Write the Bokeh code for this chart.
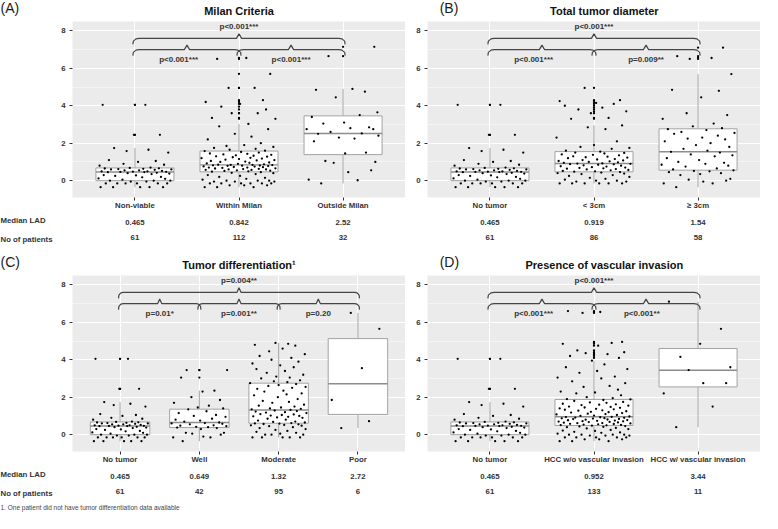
from bokeh.plotting import figure
from bokeh.models import Range1d, FixedTicker, LinearAxis
from bokeh.layouts import row, column
from bokeh.core.properties import value
from bokeh.embed import file_html
from bokeh.resources import INLINE

FONT = "Liberation Sans"

# ---------------- data ----------------
no_tumor = [-0.35, -0.35, -0.35, -0.35, -0.35, -0.15, -0.15, -0.15, -0.15, -0.15, -0.15, -0.05, -0.05, 0.0, 0.0, 0.0,
            0.05, 0.1, 0.12, 0.18, 0.2, 0.25, 0.28, 0.3, 0.35, 0.38, 0.4, 0.42, 0.45, 0.46,
            0.465,
            0.47, 0.48, 0.5, 0.5, 0.52, 0.55, 0.55, 0.58, 0.6, 0.6, 0.62, 0.63, 0.65, 0.66, 0.68,
            0.7, 0.8, 0.85, 0.9, 1.0, 1.05, 1.1, 1.5, 1.58, 1.65, 1.74, 2.45, 2.45, 4.05, 4.05]

within_milan = [-0.35, -0.35, -0.35, -0.25, -0.25, -0.25, -0.15, -0.15, -0.15, -0.15, -0.15, -0.15, -0.05, -0.05,
                -0.05, 0.0, 0.0, 0.0, 0.05, 0.1, 0.15, 0.2, 0.25, 0.3, 0.35, 0.4, 0.42, 0.45,
                0.48, 0.5, 0.52, 0.53, 0.55, 0.57, 0.58, 0.6, 0.6, 0.62, 0.63, 0.65, 0.66, 0.68, 0.7, 0.7, 0.72,
                0.73, 0.75, 0.76, 0.78, 0.79, 0.8, 0.81, 0.82, 0.83, 0.84, 0.842,
                0.85, 0.87, 0.9, 0.92, 0.95, 0.97, 1.0, 1.02, 1.05, 1.08, 1.1, 1.12, 1.15, 1.18, 1.2, 1.22, 1.25,
                1.28, 1.3, 1.33, 1.35, 1.38, 1.4, 1.43, 1.45, 1.5, 1.53, 1.58,
                1.6, 1.65, 1.7, 1.75, 1.8, 1.85, 1.9, 2.0, 2.2, 2.35, 2.5, 2.75, 2.9, 3.03, 3.3, 3.35, 3.6, 3.6,
                3.8, 3.95, 4.1, 4.2, 4.3, 4.95, 4.95, 5.7, 6.5, 6.55]

outside_milan = [-0.15, 0.02, 0.05, 0.45, 0.55, 0.95, 1.0, 1.05, 1.45, 1.5, 2.1, 2.25, 2.3, 2.4, 2.5, 2.52,
                 2.6, 2.75, 2.75, 2.8, 2.85, 3.05, 3.1, 3.4, 3.5, 3.65, 4.45, 4.75, 4.85, 4.9, 6.65, 7.15]

under_3cm = [-0.15, -0.15, -0.15, -0.15, -0.15, -0.15, -0.05, -0.05, 0.0, 0.0, 0.05, 0.1, 0.15, 0.2, 0.25, 0.3,
             0.35, 0.38, 0.4, 0.43, 0.46,
             0.48, 0.5, 0.52, 0.55, 0.57, 0.6, 0.62, 0.64, 0.66, 0.68, 0.7, 0.72, 0.75, 0.77, 0.8, 0.82, 0.85,
             0.87, 0.88, 0.9, 0.91, 0.919,
             0.95, 0.98, 1.0, 1.03, 1.05, 1.08, 1.1, 1.13, 1.15, 1.2, 1.23, 1.25, 1.28, 1.3, 1.35, 1.38, 1.4,
             1.45, 1.48, 1.5, 1.55,
             1.6, 1.7, 1.75, 1.8, 1.9, 2.1, 2.3, 2.75, 2.85, 2.95, 3.3, 3.35, 3.6, 3.7, 3.8, 3.9, 4.0, 4.1,
             4.15, 4.25, 4.3, 4.95]

over_3cm = [-0.35, -0.15, -0.15, -0.05, 0.0, 0.05, 0.1, 0.3, 0.35, 0.4, 0.45, 0.5, 0.52, 0.55,
            0.6, 0.65, 0.75, 0.8, 0.85, 0.9, 0.95, 1.0, 1.1, 1.2, 1.3, 1.35, 1.4, 1.5, 1.54,
            1.6, 1.7, 1.8, 1.9, 2.0, 2.1, 2.2, 2.25, 2.3, 2.4, 2.5, 2.55, 2.6, 2.7, 2.75,
            2.8, 2.9, 3.05, 3.3, 3.5, 3.6, 4.45, 4.8, 4.85, 5.69, 6.5, 6.55, 6.65, 7.1]

well_diff = [-0.35, -0.15, -0.15, -0.1, 0.0, 0.05, 0.1, 0.1, 0.3, 0.35,
             0.38, 0.4, 0.42, 0.45, 0.48, 0.5, 0.55, 0.58, 0.6, 0.62, 0.649,
             0.7, 0.75, 0.8, 0.85, 0.95, 1.0, 1.05, 1.15, 1.25, 1.35,
             1.4, 1.45, 1.55, 1.7, 1.85, 2.0, 2.3, 2.35, 3.05, 3.45, 3.45]

moderate_diff = [-0.15, -0.15, -0.15, -0.15, -0.15, 0.0, 0.0, 0.0, 0.05, 0.1, 0.15, 0.2, 0.25, 0.3, 0.35, 0.4,
                 0.45, 0.48, 0.5, 0.52, 0.55, 0.57, 0.59, 0.6,
                 0.62, 0.65, 0.68, 0.7, 0.75, 0.8, 0.85, 0.9, 0.92, 0.95, 0.98, 1.0, 1.02, 1.05, 1.08, 1.1,
                 1.15, 1.18, 1.2, 1.23, 1.26, 1.29, 1.32,
                 1.35, 1.38, 1.4, 1.45, 1.5, 1.55, 1.6, 1.7, 1.75, 1.8, 1.9, 2.0, 2.1, 2.15, 2.2, 2.3, 2.35,
                 2.45, 2.5, 2.55, 2.6, 2.65, 2.7, 2.75,
                 2.8, 2.85, 2.9, 3.0, 3.05, 3.1, 3.2, 3.3, 3.4, 3.5, 3.6, 3.7, 3.8, 3.9, 4.0, 4.1, 4.2, 4.3,
                 4.45, 4.6, 4.75, 4.8, 4.85, 4.9]

poor_diff = [0.35, 0.72, 1.85, 3.55, 5.65, 6.5]

hcc_no_vi = [-0.35, -0.35, -0.35, -0.25, -0.25, -0.25, -0.15, -0.15, -0.15, -0.15, -0.15, -0.05, -0.05, -0.05,
             0.0, 0.0, 0.0, 0.0, 0.05, 0.1, 0.12, 0.15, 0.2, 0.22, 0.25, 0.3, 0.33, 0.36, 0.4, 0.42, 0.44,
             0.46, 0.48,
             0.5, 0.51, 0.52, 0.54, 0.55, 0.57, 0.58, 0.6, 0.61, 0.62, 0.64, 0.65, 0.67, 0.68, 0.7, 0.71,
             0.72, 0.74, 0.75, 0.77, 0.78, 0.8, 0.81, 0.83, 0.84, 0.86, 0.87, 0.88, 0.9, 0.91, 0.93, 0.94,
             0.952,
             0.97, 1.0, 1.02, 1.05, 1.08, 1.1, 1.12, 1.15, 1.18, 1.2, 1.22, 1.25, 1.28, 1.3, 1.33, 1.35,
             1.38, 1.4, 1.43, 1.45, 1.48, 1.5, 1.55, 1.58, 1.6, 1.62, 1.65, 1.7, 1.72, 1.75, 1.8, 1.85, 1.88,
             1.9, 1.95, 2.0, 2.1, 2.2, 2.25, 2.3, 2.4, 2.55, 2.6, 2.75, 2.85, 3.0, 3.05, 3.1, 3.3, 3.4, 3.5,
             3.6, 3.75, 3.95, 4.1, 4.2, 4.3, 4.35, 4.4, 4.5, 4.75, 4.85, 4.9, 4.95, 6.5, 6.55, 6.6]

hcc_vi = [0.4, 1.5, 2.2, 2.75, 2.75, 3.45, 3.6, 4.15, 4.85, 5.65, 7.1]

# box statistics: lower whisker, Q1, median, Q3, upper whisker
stats_no_tumor = [-0.35, 0.0, 0.465, 0.68, 1.74]
stats_within = [-0.35, 0.47, 0.842, 1.58, 3.03]
stats_outside = [-0.15, 1.39, 2.52, 3.46, 4.9]
stats_under3 = [-0.15, 0.47, 0.919, 1.55, 2.95]
stats_over3 = [-0.35, 0.56, 1.54, 2.77, 5.69]
stats_well = [-0.35, 0.38, 0.649, 1.36, 2.35]
stats_moderate = [-0.15, 0.61, 1.32, 2.75, 4.9]
stats_poor = [0.35, 1.08, 2.72, 5.13, 6.5]
stats_no_vi = [-0.35, 0.49, 0.952, 1.88, 3.95]
stats_vi = [0.4, 2.55, 3.44, 4.6, 7.1]

# horizontal jitter of the points (category units)
jitter = [-0.21, 0.14, -0.33, 0.05, 0.27, -0.09, 0.31, -0.17, 0.02, 0.22, -0.28, 0.11, -0.04, 0.34, -0.24, 0.18,
          -0.12, 0.29, -0.35, 0.07, 0.25, -0.19, 0.01, -0.30, 0.16, 0.33, -0.07, 0.21, -0.26, 0.09, -0.14, 0.30,
          -0.02, 0.12, -0.32, 0.26, -0.10, 0.04, 0.19, -0.23, 0.35, -0.16, 0.08, -0.29, 0.23, -0.05, 0.15, -0.34,
          0.28, -0.11, 0.03, 0.20, -0.25, 0.32, -0.08, 0.13, -0.20, 0.24, -0.01, -0.31, 0.10, 0.29, -0.18, 0.06,
          -0.27, 0.17, 0.34, -0.13, 0.00, 0.22, -0.36, 0.11, -0.06, 0.27, -0.22, 0.14, -0.03, 0.31, -0.15, 0.08,
          -0.28, 0.19, 0.02, -0.33, 0.25, -0.09, 0.16, -0.24, 0.33, -0.12, 0.05, 0.21, -0.30, 0.12, -0.04, 0.28,
          -0.19, 0.09, 0.35, -0.26, 0.18, -0.07, 0.26, -0.17, 0.01, -0.32, 0.23, -0.10, 0.15, 0.30, -0.21, 0.07,
          -0.35, 0.20, -0.14, 0.03, 0.32, -0.27, 0.10, -0.02, 0.24, -0.23, 0.13, -0.08, 0.29, -0.16, 0.04, -0.30,
          0.17, 0.27, -0.11, 0.06, -0.25, 0.12, -0.18, 0.31]

cats_a = ["Non-viable", "Within Milan", "Outside Milan"]
cats_b = ["No tumor", "< 3cm", "\u2265 3cm"]
cats_c = ["No tumor", "Well", "Moderate", "Poor"]
cats_d = ["No tumor", "HCC w/o vascular invasion", "HCC w/ vascular invasion"]

counts_a = [61, 112, 32]
counts_b = [61, 86, 58]
counts_c = [61, 42, 95, 6]
counts_d = [61, 133, 11]

pvals_a = ["p<0.001***", "p<0.001***", "p<0.001***"]   # overall, then adjacent pairs
pvals_b = ["p<0.001***", "p<0.001***", "p=0.009**"]
pvals_c = ["p=0.004**", "p=0.01*", "p=0.001**", "p=0.20"]
pvals_d = ["p<0.001***", "p<0.001***", "p<0.001**"]

row_labels = ["Median LAD", "No of patients"]
footnote = "1. One patient did not have tumor differentiation data available"

# ---------------- styling / layout ----------------
FW, FH = 333, 176
HEAD = 21          # header strip with tag and title
LABW = 58          # strip with the row labels (left panels)
TXT = "#333333"
BOXC = "#A3A3A3"
MEDC = "#8C8C8C"
BRC = "#454545"
HALF = 0.375
AX_FS = "7.8px"
STANDOFFS = [0, 7, 7]          # label rows under the panel
LABEL_CENTERS = [22.5, 26.0]   # half widths of the row labels (left aligned look)


def blank(w, h):
    f = figure(width=w, height=h, x_range=Range1d(0, w), y_range=Range1d(0, h), min_border=0,
               x_axis_location=None, y_axis_location=None, output_backend="svg", toolbar_location=None,
               outline_line_color=None, background_fill_color="white", border_fill_color="white")
    f.grid.visible = False
    return f


def style_axis(ax):
    ax.axis_line_color = None
    ax.major_label_text_font = FONT
    ax.major_label_text_font_size = AX_FS
    ax.major_label_text_font_style = "bold"
    ax.major_label_text_color = TXT
    ax.minor_tick_line_color = None


def add_row_axes(p, ticks_per_row, labels_per_row, is_main):
    """three stacked axes under the panel: categories, median LAD, number of patients"""
    for k, (ticks, labels) in enumerate(zip(ticks_per_row, labels_per_row)):
        if k == 0 and is_main:
            ax = p.xaxis[0]
            ax.ticker = FixedTicker(ticks=ticks)
            ax.major_label_overrides = {t: s for t, s in zip(ticks, labels)}
        else:
            ax = LinearAxis(ticker=FixedTicker(ticks=ticks),
                            major_label_overrides={t: s for t, s in zip(ticks, labels)})
            p.add_layout(ax, "below")
        style_axis(ax)
        ax.major_tick_in = 0
        ax.major_label_standoff = STANDOFFS[k]
        if k == 0:
            ax.major_tick_out = 3
            ax.major_tick_line_color = TXT if is_main else "white"
            if not is_main:
                ax.major_label_text_color = "white"
        else:
            ax.major_tick_out = 0
            ax.major_tick_line_color = None


def make_main(cats, groups, stats, counts, pvals, low_shift, lb, bottom):
    n = len(cats)
    idx = list(range(1, n + 1))
    p = figure(frame_width=FW, frame_height=FH, x_range=Range1d(0.4, n + 0.6), y_range=Range1d(-0.9, 8.5),
               output_backend="svg", toolbar_location=None, min_border_left=lb, min_border_right=0,
               min_border_top=0, min_border_bottom=bottom, background_fill_color="#EBEBEB",
               border_fill_color="white", outline_line_color=None)

    medians = [s[2] for s in stats]
    add_row_axes(p, [idx, idx, idx],
                 [cats, [f"{m:g}" for m in medians], [str(c) for c in counts]], True)

    ya = p.yaxis[0]
    ya.ticker = FixedTicker(ticks=[0, 2, 4, 6, 8], minor_ticks=[1, 3, 5, 7])
    style_axis(ya)
    ya.major_tick_out = 3
    ya.major_tick_in = 0
    ya.major_tick_line_color = TXT
    ya.major_label_standoff = 3

    p.xgrid.grid_line_color = "white"
    p.ygrid.grid_line_color = "white"
    p.ygrid.minor_grid_line_color = "white"
    p.ygrid.minor_grid_line_width = 0.5

    lo = [s[0] for s in stats]
    q1 = [s[1] for s in stats]
    q3 = [s[3] for s in stats]
    hi = [s[4] for s in stats]
    p.segment(x0=idx + idx, y0=q3 + q1, x1=idx + idx, y1=hi + lo, line_color=BOXC, line_width=1)
    p.quad(left=[i - HALF for i in idx], right=[i + HALF for i in idx], bottom=q1, top=q3,
           fill_color="white", line_color=BOXC, line_width=1)
    p.segment(x0=[i - HALF for i in idx], x1=[i + HALF for i in idx], y0=medians, y1=medians,
              line_color=MEDC, line_width=1.4)

    ox, oy, jx, jy = [], [], [], []
    for i, vals, s in zip(idx, groups, stats):
        for k, v in enumerate(vals):
            jx.append(i + jitter[k])
            jy.append(v)
            if v > s[4] or v < s[0]:
                ox.append(i)
                oy.append(v)
    p.scatter(ox, oy, size=2.3, fill_color="black", line_color=None)
    p.scatter(jx, jy, size=2.3, fill_color="black", line_color=None)

    def brace(x1, x2, y):
        m = (x1 + x2) / 2
        xs = [x1 - 0.02, x1 - 0.015, x1 + 0.01, x1 + 0.04, m - 0.025, m, m + 0.025, x2 - 0.04, x2 - 0.01,
              x2 + 0.015, x2 + 0.02]
        ys = [y - 0.32, y - 0.15, y - 0.03, y, y, y + 0.24, y, y, y - 0.03, y - 0.15, y - 0.32]
        return xs, ys

    bxs, bys = [], []
    for a, b, yb in [(1, n, 7.6)] + [(i, i + 1, 7.0) for i in idx[:-1]]:
        xs, ys = brace(a, b, yb)
        bxs.append(xs)
        bys.append(ys)
    p.multi_line(bxs, bys, line_color=BRC, line_width=1.2)

    tx = [(1 + n) / 2] + [i + 0.5 + d for i, d in zip(idx[:-1], low_shift)]
    ty = [8.25] + [6.45] * (n - 1)
    p.text(x=tx, y=ty, text=pvals, text_font=value(FONT), text_font_size="8px", text_font_style="bold",
           text_align="center", text_baseline="middle", text_color=TXT)
    return p


def make_labels(bottom):
    f = figure(frame_width=LABW, frame_height=FH, x_range=Range1d(0, LABW), y_range=Range1d(0, 1),
               min_border_left=0, min_border_right=0, min_border_top=0, min_border_bottom=bottom,
               x_axis_location=None, y_axis_location=None, output_backend="svg", toolbar_location=None,
               outline_line_color=None, background_fill_color="white", border_fill_color="white")
    f.grid.visible = False
    add_row_axes(f, [[LABW / 2], [LABEL_CENTERS[0]], [LABEL_CENTERS[1]]],
                 [["0"], [row_labels[0]], [row_labels[1]]], False)
    return f


def make_panel(tag, title, cats, groups, stats, counts, pvals, low_shift, left, bottom):
    if left:
        lb = 14
        total_w = LABW + lb + FW
        tag_x = 0
    else:
        lb = 22
        total_w = lb + FW
        tag_x = lb - 9
    main = make_main(cats, groups, stats, counts, pvals, low_shift, lb, bottom)
    head = blank(total_w, HEAD)
    head.text(x=[tag_x], y=[HEAD + 1], text=[tag], text_font=value(FONT), text_font_size="14px",
              text_align="left", text_baseline="top", text_color="#1A1A1A")
    head.text(x=[total_w - FW / 2], y=[HEAD - 10], text=[title], text_font=value(FONT),
              text_font_size="11px", text_font_style="bold", text_align="center", text_baseline="middle",
              text_color="#111111")
    body = row(make_labels(bottom), main) if left else main
    return column(head, body)


pa = make_panel("(A)", "Milan Criteria", cats_a, [no_tumor, within_milan, outside_milan],
                [stats_no_tumor, stats_within, stats_outside], counts_a, pvals_a, [-0.08, 0.0], True, 57)
pb = make_panel("(B)", "Total tumor diameter", cats_b, [no_tumor, under_3cm, over_3cm],
                [stats_no_tumor, stats_under3, stats_over3], counts_b, pvals_b, [-0.08, 0.0], False, 57)
pc = make_panel("(C)", "Tumor differentiation\u00b9", cats_c, [no_tumor, well_diff, moderate_diff, poor_diff],
                [stats_no_tumor, stats_well, stats_moderate, stats_poor], counts_c, pvals_c, [0.0, 0.0, 0.0],
                True, 47)
pd_ = make_panel("(D)", "Presence of vascular invasion", cats_d, [no_tumor, hcc_no_vi, hcc_vi],
                 [stats_no_tumor, stats_no_vi, stats_vi], counts_d, pvals_d, [-0.08, -0.04], False, 47)

foot = blank(LABW + 14 + FW + 22 + FW, 13)
foot.text(x=[0], y=[6.5], text=[footnote], text_font=value(FONT), text_font_size="6.5px",
          text_align="left", text_baseline="middle", text_color="#444444")

layout = column(row(pa, pb), row(pc, pd_), foot)
open("out.html", "w").write(file_html(layout, INLINE, "LAD"))
